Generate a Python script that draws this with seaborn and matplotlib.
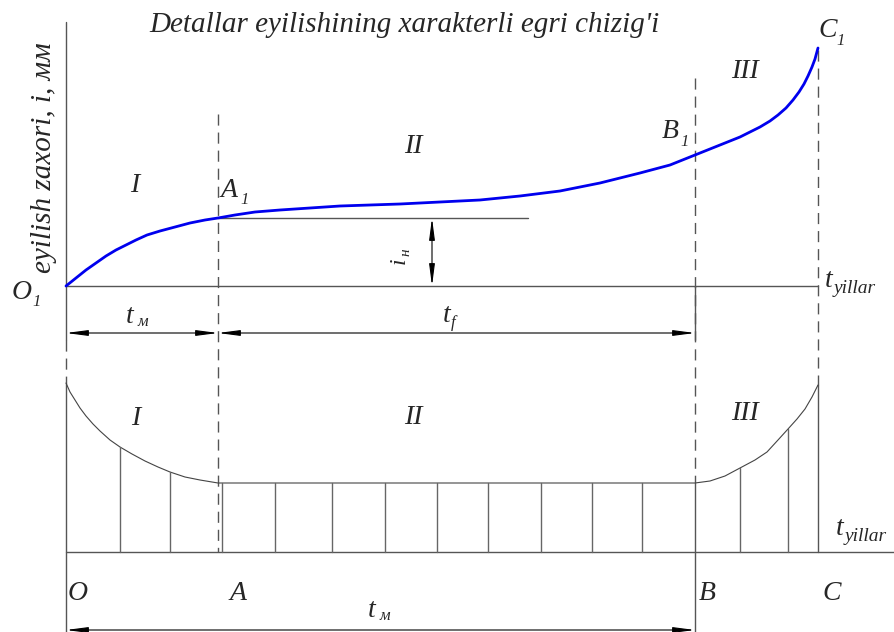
import numpy as np
import pandas as pd
import matplotlib
matplotlib.use("Agg")
import matplotlib.pyplot as plt
import seaborn as sns

sns.set_style("white")
plt.rcParams["font.family"] = ["Liberation Serif", "DejaVu Serif"]

# ---- data (drawing units = pixels, y down) ----
# upper wear curve O1 -> A1 -> B1 -> C1
wear_x = [66, 76, 86, 96, 106, 116, 126, 136, 147, 160, 175, 190, 205, 218,
          235, 255, 280, 310, 340, 370, 400, 440, 480, 520, 560, 600, 640, 670,
          695, 710, 725, 740, 750, 760, 770, 778, 786, 793, 799, 804, 808, 812, 815, 818]
wear_y = [286, 278, 270, 263, 256, 250, 245, 240, 235, 231, 227, 223, 220, 218,
          215, 212, 210, 208, 206, 205, 204, 202, 200, 196, 191, 183, 173, 165,
          155, 149, 143, 137, 132, 127, 121, 115, 108, 100, 92, 84, 76, 67, 59, 48]

# lower rate curve (I decreasing, II flat, III rising)
rate_x = [66, 70, 75, 80, 86, 93, 100, 110, 120, 132, 145, 158, 170, 185, 200, 218,
          695, 710, 725, 740, 755, 767, 778, 788, 797, 805, 812, 818]
rate_y = [383, 392, 400, 408, 416, 424, 431, 440, 447, 454, 461, 467, 472, 477, 480, 483,
          483, 481, 476, 468, 460, 452, 440, 429, 419, 409, 397, 385]

# hatch lines under the lower curve
hatch_x = [120, 170, 222, 275, 332, 385, 437, 488, 541, 592, 642, 740, 788]
hatch_top = [447, 472, 483, 483, 483, 483, 483, 483, 483, 483, 483, 468, 429]

# key abscissae O, A, B, C
x_O, x_A, x_B, x_C = 66, 218, 695, 818
base_up, base_low = 286, 552

gray = "#555555"
dash = (0, (8, 5))

fig = plt.figure(figsize=(8.94, 6.32), dpi=100)
ax = fig.add_axes([0, 0, 1, 1])
ax.set_xlim(0, 894)
ax.set_ylim(632, 0)
ax.axis("off")

# axes / base lines
ax.plot([x_O, x_O], [22, 340], color=gray, lw=1)
ax.plot([x_O, x_O], [340, 383], color=gray, lw=1, ls=dash)
ax.plot([x_O, x_O], [383, 632], color=gray, lw=1)
ax.plot([x_O, x_C], [base_up, base_up], color=gray, lw=1)
ax.plot([x_O, 894], [base_low, base_low], color=gray, lw=1)

# dashed boundaries
ax.plot([x_A, x_A], [114, base_low], color=gray, lw=1, ls=dash)
ax.plot([x_B, x_B], [78, 483], color=gray, lw=1, ls=dash)
ax.plot([x_B, x_B], [483, 632], color=gray, lw=1)
ax.plot([x_B, x_B], [286, 340], color=gray, lw=1)
ax.plot([x_C, x_C], [50, 385], color=gray, lw=1, ls=dash)
ax.plot([x_C, x_C], [385, base_low], color=gray, lw=1)

# horizontal reference from A1 and i_н dimension
ax.plot([x_A, 528], [218, 218], color=gray, lw=1)
arw = dict(arrowstyle="<|-|>,head_length=1.3,head_width=0.17", color="black",
           lw=0.8, shrinkA=0, shrinkB=0)
ax.annotate("", xy=(432, 218), xytext=(432, 286), arrowprops=arw)

# dimension arrows
ax.annotate("", xy=(x_O, 333), xytext=(x_A, 333), arrowprops=arw)
ax.annotate("", xy=(x_A, 333), xytext=(x_B, 333), arrowprops=arw)
ax.annotate("", xy=(x_O, 630), xytext=(x_B, 630), arrowprops=arw)

# curves
sns.lineplot(x=wear_x, y=wear_y, ax=ax, color="#0000ee", lw=2, sort=False)
sns.lineplot(x=rate_x, y=rate_y, ax=ax, color="#444444", lw=0.8, sort=False)
for hx, ht in zip(hatch_x, hatch_top):
    ax.plot([hx, hx], [ht, base_low], color="#666666", lw=1)


def lab(x, y, main, sub=None, size=20, subsize=12, dx=None, dy=6):
    ax.text(x, y, main, fontsize=size, style="italic", ha="left", va="baseline")
    if sub:
        ax.text(x + (dx if dx is not None else size * 0.75), y + dy, sub,
                fontsize=subsize, style="italic", ha="left", va="baseline")


ax.text(404, 32, "Detallar eyilishining xarakterli egri chizig'i", fontsize=21,
        style="italic", ha="center", va="baseline")
ax.text(44, 158, "eyilish zaxori, i, мм", fontsize=21, style="italic",
        rotation=90, ha="center", va="center")

lab(12, 299, "O", "1", dx=20, dy=7)
lab(221, 197, "A", "1", dx=19, dy=7)
lab(662, 138, "B", "1", dx=18, dy=8)
lab(818, 37, "C", "1", dx=18, dy=8)

for xx, yy, s in [(130, 192, "I"), (404, 153, "II"), (731, 78, "III"),
                  (131, 425, "I"), (404, 424, "II"), (731, 420, "III")]:
    ax.text(xx, yy, s, fontsize=20, style="italic", ha="left", va="baseline")

lab(126, 323, "t", "м", dx=11, dy=3)
lab(443, 322, "t", "f", dx=8, dy=5)
lab(368, 617, "t", "м", dx=11, dy=3)
lab(825, 287, "t", "yillar", size=20, subsize=14, dx=9, dy=6)
lab(836, 535, "t", "yillar", size=20, subsize=14, dx=9, dy=6)

ax.text(399, 261, "i", fontsize=17, style="italic", rotation=90, ha="center", va="center")
ax.text(406, 252, "н", fontsize=11, style="italic", rotation=90, ha="center", va="center")

lab(68, 600, "O")
lab(230, 600, "A")
lab(699, 600, "B")
lab(822, 600, "C")

fig.savefig("out.png", dpi=100)
